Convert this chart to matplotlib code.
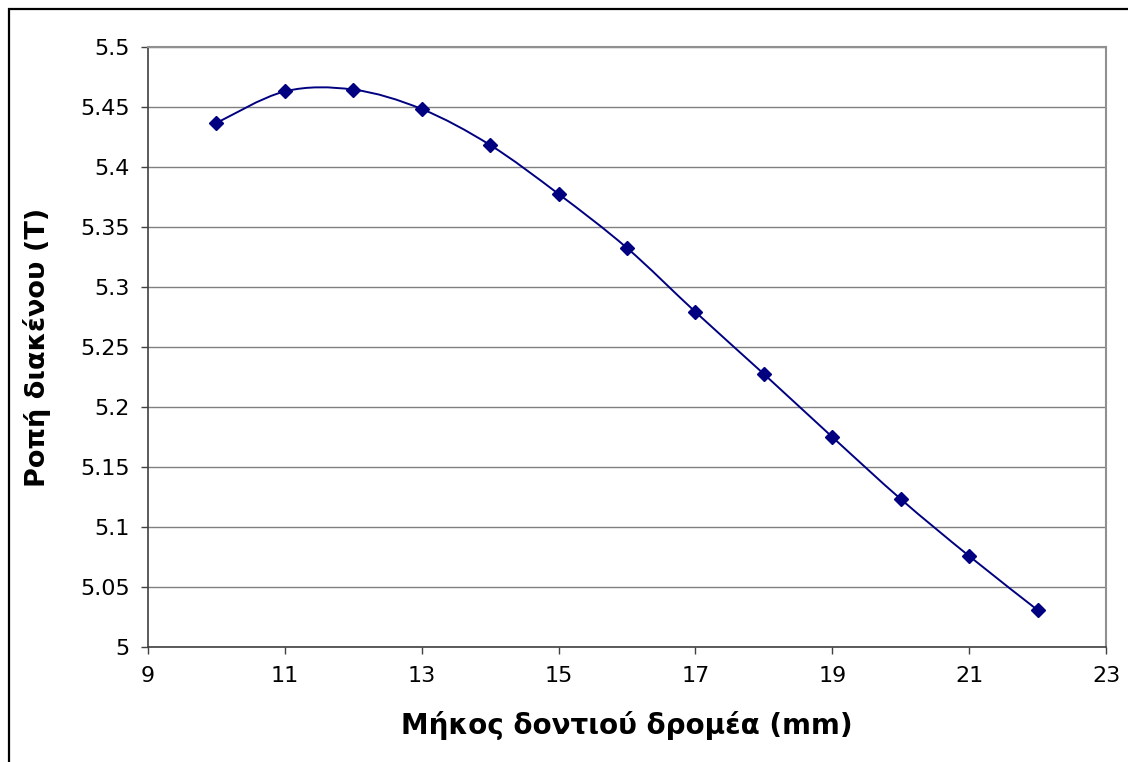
import matplotlib
matplotlib.use("Agg")
import matplotlib.pyplot as plt
import numpy as np
from matplotlib.path import Path
from matplotlib.patches import PathPatch, Rectangle

# data
tooth_len = [10, 11, 12, 13, 14, 15, 16, 17, 18, 19, 20, 21, 22]
torque = [5.4367, 5.4630, 5.4645, 5.4483, 5.4183, 5.3775, 5.3325,
          5.2792, 5.2275, 5.1750, 5.1233, 5.0758, 5.0308]

x_ticks = [9, 11, 13, 15, 17, 19, 21, 23]
y_ticks = [5, 5.05, 5.1, 5.15, 5.2, 5.25, 5.3, 5.35, 5.4, 5.45, 5.5]

navy = "#000080"
axis_col = "#404040"

fig = plt.figure(figsize=(11.28, 7.62), dpi=100)
ax = fig.add_axes([148 / 1128, 1 - 647 / 762, (1106 - 148) / 1128, 600 / 762])

# smoothed line (Excel style bezier through the points)
pts = np.column_stack([tooth_len, torque])
verts = [tuple(pts[0])]
codes = [Path.MOVETO]
n = len(pts)
for i in range(n - 1):
    p0 = pts[max(i - 1, 0)]
    p1 = pts[i]
    p2 = pts[i + 1]
    p3 = pts[min(i + 2, n - 1)]
    c1 = p1 + (p2 - p0) / 6.0
    c2 = p2 - (p3 - p1) / 6.0
    verts += [tuple(c1), tuple(c2), tuple(p2)]
    codes += [Path.CURVE4] * 3
ax.add_patch(PathPatch(Path(verts, codes), facecolor="none", edgecolor=navy,
                       lw=1.4, zorder=3))
ax.plot(tooth_len, torque, linestyle="none", marker="D", markersize=6.8,
        color=navy, zorder=4)

ax.set_xlim(9, 23)
ax.set_ylim(5, 5.5)
ax.set_xticks(x_ticks)
ax.set_yticks(y_ticks)
ax.set_yticklabels([f"{v:g}" for v in y_ticks])
ax.grid(axis="y", color="#808080", lw=1.0)
ax.set_axisbelow(True)

ax.tick_params(axis="both", direction="out", length=5, width=1.0,
               color=axis_col, labelsize=16)
ax.tick_params(axis="y", pad=8)
ax.tick_params(axis="x", pad=9)
for side in ["left", "bottom"]:
    ax.spines[side].set_color(axis_col)
    ax.spines[side].set_linewidth(1.2)
for side in ["top", "right"]:
    ax.spines[side].set_color("#909090")
    ax.spines[side].set_linewidth(1.5)

ax.set_xlabel("Μήκος δοντιού δρομέα (mm)", fontsize=20, fontweight="bold",
              labelpad=18)
ax.set_ylabel("Ροπή διακένου (Τ)", fontsize=19.5, fontweight="bold",
              labelpad=21)

# outer chart border
fig.add_artist(Rectangle((8.5 / 1128, -0.05), 1.2, 1 - 8.5 / 762 + 0.05,
                         transform=fig.transFigure, fill=False,
                         edgecolor="black", lw=1.6))

fig.savefig("out.png", dpi=100)
